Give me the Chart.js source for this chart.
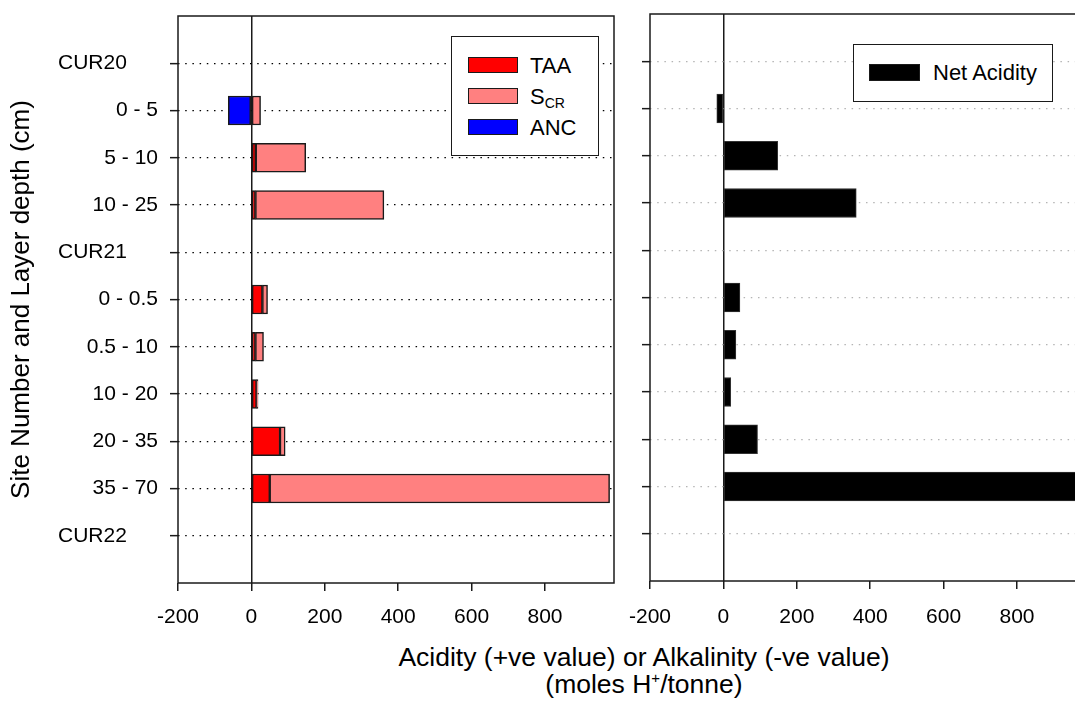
<!DOCTYPE html>
<html>
<head>
<meta charset="utf-8">
<script src="https://cdn.jsdelivr.net/npm/chart.js@4"></script>
<style>
  html, body { margin: 0; padding: 0; background: #fff; overflow: hidden; }
  #wrap { position: relative; width: 1075px; height: 702px; overflow: hidden; font-family: "Liberation Sans", Arial, sans-serif; color: #000; }
  canvas { position: absolute; top: 0; }
  .legend { position: absolute; background: #fff; border: 1.5px solid #1a1a1a; box-sizing: border-box; }
  .item { position: absolute; font-size: 22px; line-height: 22px; white-space: nowrap; }
  .sw { position: absolute; width: 50px; height: 16px; box-sizing: border-box; border: 1.5px solid #1a1a1a; }
  .item span.t { position: absolute; left: 62px; top: -1px; }
  #xtitle { position: absolute; left: 0; width: 1288px; top: 644px; text-align: center; font-size: 26.5px; line-height: 27px; }
  #xtitle sup { font-size: 15px; line-height: 0; vertical-align: 10px; }
</style>
</head>
<body>
<div id="wrap">
  <canvas id="left" width="640" height="640" style="left:0"></canvas>
  <canvas id="right" width="500" height="640" style="left:600px"></canvas>

  <div class="legend" style="left:451px;top:36px;width:148px;height:120px">
    <div class="item" style="left:16px;top:19px"><div class="sw" style="background:#ff0000;top:1px"></div><span class="t">TAA</span></div>
    <div class="item" style="left:16px;top:50px"><div class="sw" style="background:#ff8080;top:1px"></div><span class="t">S<sub style="font-size:14px;vertical-align:-4px">CR</sub></span></div>
    <div class="item" style="left:16px;top:81px"><div class="sw" style="background:#0000ff;top:1px"></div><span class="t">ANC</span></div>
  </div>

  <div class="legend" style="left:853px;top:44px;width:200px;height:58px">
    <div class="item" style="left:15px;top:18px"><div class="sw" style="background:#000;width:51px;height:17px;top:1px"></div><span class="t" style="left:64px">Net Acidity</span></div>
  </div>

  <div id="xtitle">Acidity (+ve value) or Alkalinity (-ve value)<br>(moles H<sup>+</sup>/tonne)</div>
</div>

<script>
const rowLabels = ['CUR20', '0 - 5', '5 - 10', '10 - 25', 'CUR21', '0 - 0.5', '0.5 - 10', '10 - 20', '20 - 35', '35 - 70', 'CUR22'];
const taa = [null, null, 12, 11, null, 30, 11, 14, 78, 50, null];
const scr = [null, 25, 136, 350, null, 14, 22, 4, 14, 926, null];
const anc = [null, -63, null, null, null, null, null, null, null, null, null];
const netAcidity = [null, -18, 148, 362, null, 45, 34, 20, 93, 976, null];
const xTicks = [-200, 0, 200, 400, 600, 800];
const xMin = -200, xMax = 988;

Chart.defaults.font.family = '"Liberation Sans", Arial, sans-serif';
Chart.defaults.color = '#000';

// empty slot above and below so the rows sit a full step away from the frame
const labels = ['', ...rowLabels, ''];
const pad = arr => [null, ...arr, null];
const last = labels.length - 1;
const isPad = c => c.index === 0 || c.index === last;

const frame = {
    id: 'frame',
    afterDraw(chart) {
        const { ctx, chartArea: a } = chart;
        ctx.save();
        ctx.strokeStyle = '#1a1a1a';
        ctx.lineWidth = 1.5;
        ctx.strokeRect(a.left, a.top, a.right - a.left, a.bottom - a.top);
        ctx.restore();
    }
};

// site names are left aligned, away from the depth labels
const siteLabels = {
    id: 'siteLabels',
    afterDraw(chart) {
        const ctx = chart.ctx;
        const y = chart.scales.y;
        ctx.save();
        ctx.font = '21px "Liberation Sans", Arial, sans-serif';
        ctx.fillStyle = '#000';
        ctx.textAlign = 'left';
        ctx.textBaseline = 'middle';
        rowLabels.forEach((lab, i) => {
            if (lab.startsWith('CUR')) ctx.fillText(lab, 58, y.getPixelForValue(i + 1));
        });
        ctx.restore();
    }
};

function xScale(height, padding) {
    return {
        type: 'linear',
        stacked: true,
        min: xMin,
        max: xMax,
        afterBuildTicks: s => { s.ticks = xTicks.map(v => ({ value: v })); },
        afterFit: s => { s.height = height; s.paddingLeft = 0; s.paddingRight = 0; },
        grid: {
            drawOnChartArea: true,
            color: c => (c.tick && c.tick.value === 0) ? '#1a1a1a' : 'rgba(0,0,0,0)',
            lineWidth: 1.5,
            tickColor: '#1a1a1a',
            tickWidth: 1.5,
            tickLength: 8
        },
        border: { display: false },
        ticks: { font: { size: 21 }, color: '#000', padding: padding, maxRotation: 0 }
    };
}

function yScale(width, dotColor, showLabels) {
    return {
        type: 'category',
        stacked: true,
        offset: false,
        afterFit: s => { s.width = width; s.paddingTop = 0; s.paddingBottom = 0; },
        grid: {
            offset: false,
            color: c => isPad(c) ? 'rgba(0,0,0,0)' : dotColor,
            lineWidth: 1.3,
            tickColor: c => isPad(c) ? 'rgba(0,0,0,0)' : '#1a1a1a',
            tickWidth: 1.5,
            tickLength: 8
        },
        border: { display: false, dash: [1.5, 5.7] },
        ticks: {
            display: showLabels,
            autoSkip: false,
            font: { size: 21 },
            color: '#000',
            padding: 12,
            callback: function (v) {
                const lab = this.getLabelForValue(v);
                return lab.startsWith('CUR') ? '' : lab;
            }
        }
    };
}

const barStyle = { barThickness: 29, borderSkipped: false, borderWidth: 1.5, borderColor: '#1a1a1a' };

new Chart(document.getElementById('left'), {
    type: 'bar',
    data: {
        labels: labels,
        datasets: [
            { label: 'TAA', data: pad(taa), backgroundColor: '#ff0000', ...barStyle },
            { label: 'SCR', data: pad(scr), backgroundColor: '#ff8080', ...barStyle },
            { label: 'ANC', data: pad(anc), backgroundColor: '#0000ff', ...barStyle }
        ]
    },
    options: {
        indexAxis: 'y',
        responsive: false,
        animation: false,
        layout: { padding: { top: 16, right: 26, left: 0, bottom: 0 } },
        plugins: { legend: { display: false }, tooltip: { enabled: false } },
        scales: {
            x: xScale(57, 14),
            y: {
                ...yScale(178, '#000', true),
                title: {
                    display: true,
                    text: 'Site Number and Layer depth (cm)',
                    font: { size: 26 },
                    color: '#000',
                    padding: { top: 6, bottom: 0 }
                }
            }
        }
    },
    plugins: [frame, siteLabels]
});

new Chart(document.getElementById('right'), {
    type: 'bar',
    data: {
        labels: labels,
        datasets: [
            { label: 'Net Acidity', data: pad(netAcidity), backgroundColor: '#000', barThickness: 29, borderSkipped: false, borderWidth: 1, borderColor: '#333' }
        ]
    },
    options: {
        indexAxis: 'y',
        responsive: false,
        animation: false,
        layout: { padding: { top: 14, right: 14, left: 0, bottom: 0 } },
        plugins: { legend: { display: false }, tooltip: { enabled: false } },
        scales: {
            x: xScale(59, 16),
            y: yScale(50, '#b4b4b4', false)
        }
    },
    plugins: [frame]
});
</script>
</body>
</html>
